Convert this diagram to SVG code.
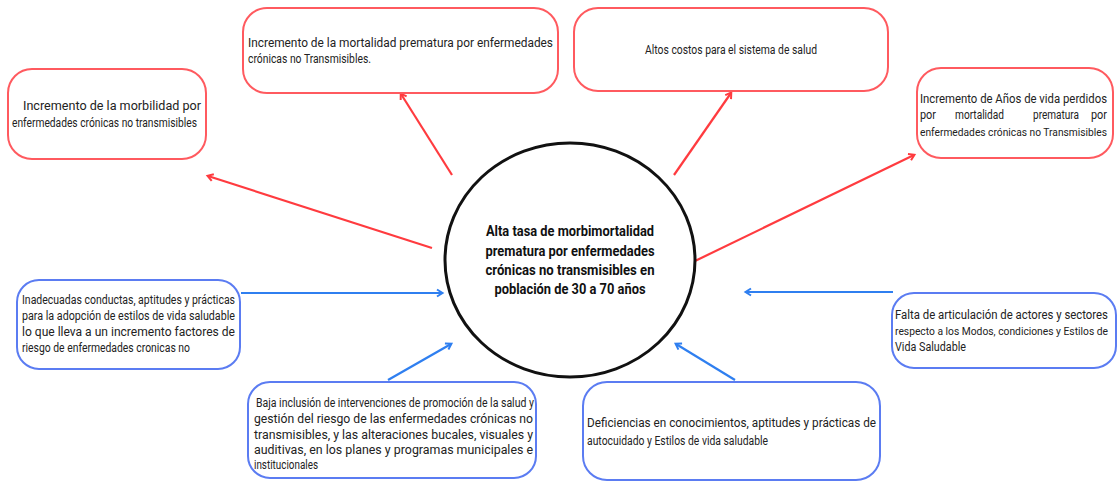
<svg xmlns="http://www.w3.org/2000/svg" width="1119" height="482" viewBox="0 0 1119 482">
<style>
.bg{fill:#ffffff}
.rbox{fill:#ffffff;stroke:#ff5a5f;stroke-width:2}
.bbox{fill:#ffffff;stroke:#5b7cf2;stroke-width:2}
.t{font-family:Roboto,"Liberation Sans",sans-serif;font-size:12px;fill:#222222}
.s{font-size:11px}
.xs{font-size:10.5px}
.c{font-family:Roboto,"Liberation Sans",sans-serif;font-size:14.5px;font-weight:bold;fill:#111111}
.rl{stroke:#ff3b3f;stroke-width:2.2;fill:none;marker-end:url(#ar)}
.bl{stroke:#2f7ff0;stroke-width:2.2;fill:none;marker-end:url(#ab)}
</style>
<defs>
<marker id="ar" markerWidth="10" markerHeight="10" refX="7" refY="5" orient="auto" markerUnits="userSpaceOnUse" viewBox="0 0 10 10">
<path d="M2,1.5 L7.5,5 L2,8.5" fill="none" stroke="#ff3b3f" stroke-width="2"/>
</marker>
<marker id="ab" markerWidth="10" markerHeight="10" refX="7" refY="5" orient="auto" markerUnits="userSpaceOnUse" viewBox="0 0 10 10">
<path d="M2,1.5 L7.5,5 L2,8.5" fill="none" stroke="#2f7ff0" stroke-width="2"/>
</marker>
</defs>
<rect class="bg" x="0" y="0" width="1119" height="482"/>

<g id="connectors">
<line class="rl" x1="432" y1="248" x2="208" y2="176"/>
<line class="rl" x1="452" y1="175" x2="401" y2="94"/>
<line class="rl" x1="674" y1="175" x2="731" y2="93"/>
<line class="rl" x1="695" y1="261" x2="914" y2="155"/>
<line class="bl" x1="241" y1="293" x2="442" y2="293"/>
<line class="bl" x1="388" y1="380" x2="451" y2="344"/>
<line class="bl" x1="735" y1="380" x2="676" y2="344"/>
<line class="bl" x1="893" y1="292" x2="746" y2="292"/>
</g>

<g id="center">
<ellipse cx="570" cy="260" rx="125" ry="117" fill="#ffffff" stroke="#111111" stroke-width="3"/>
<text class="c" x="570" y="236" text-anchor="middle" textLength="168" lengthAdjust="spacingAndGlyphs">Alta tasa de morbimortalidad</text>
<text class="c" x="570" y="256" text-anchor="middle" textLength="169" lengthAdjust="spacingAndGlyphs">prematura por enfermedades</text>
<text class="c" x="570" y="275" text-anchor="middle" textLength="169" lengthAdjust="spacingAndGlyphs">crónicas no transmisibles en</text>
<text class="c" x="570" y="294" text-anchor="middle" textLength="151" lengthAdjust="spacingAndGlyphs">población de 30 a 70 años</text>
</g>

<g id="morbilidad">
<rect class="rbox" x="8" y="69" width="198" height="90" rx="24"/>
<text class="t" x="23" y="110" textLength="178" lengthAdjust="spacingAndGlyphs">Incremento de la morbilidad por</text>
<text class="t" x="12" y="127" textLength="185" lengthAdjust="spacingAndGlyphs">enfermedades crónicas no transmisibles</text>
</g>

<g id="mortalidad">
<rect class="rbox" x="243" y="8" width="315" height="85" rx="24"/>
<text class="t" x="248" y="47" textLength="305" lengthAdjust="spacingAndGlyphs">Incremento de la mortalidad prematura por enfermedades</text>
<text class="t" x="248" y="63" textLength="123" lengthAdjust="spacingAndGlyphs">crónicas no Transmisibles.</text>
</g>

<g id="costos">
<rect class="rbox" x="574" y="8" width="314" height="83" rx="24"/>
<text class="t" x="645" y="54" textLength="172" lengthAdjust="spacingAndGlyphs">Altos costos para el sistema de salud</text>
</g>

<g id="anos">
<rect class="rbox" x="917" y="68" width="196" height="90" rx="24"/>
<text class="t" x="920" y="103" textLength="187" lengthAdjust="spacingAndGlyphs">Incremento de Años de vida perdidos</text>
<text class="t" x="920" y="119" textLength="16" lengthAdjust="spacingAndGlyphs">por</text>
<text class="t" x="955" y="119" textLength="49" lengthAdjust="spacingAndGlyphs">mortalidad</text>
<text class="t" x="1033" y="119" textLength="46" lengthAdjust="spacingAndGlyphs">prematura</text>
<text class="t" x="1091" y="119" textLength="16" lengthAdjust="spacingAndGlyphs">por</text>
<text class="t s" x="920" y="136" textLength="187" lengthAdjust="spacingAndGlyphs">enfermedades crónicas no Transmisibles</text>
</g>

<g id="inadecuadas">
<rect class="bbox" x="17" y="280" width="223" height="89" rx="22"/>
<text class="t" x="22" y="304" textLength="213" lengthAdjust="spacingAndGlyphs">Inadecuadas conductas, aptitudes y prácticas</text>
<text class="t" x="22" y="320" textLength="213" lengthAdjust="spacingAndGlyphs">para la adopción de estilos de vida saludable</text>
<text class="t" x="22" y="336" textLength="213" lengthAdjust="spacingAndGlyphs">lo que lleva a un incremento factores de</text>
<text class="t" x="22" y="352" textLength="168" lengthAdjust="spacingAndGlyphs">riesgo de enfermedades cronicas no</text>
</g>

<g id="baja">
<rect class="bbox" x="248" y="382" width="288" height="96" rx="22"/>
<text class="t" x="256" y="407" textLength="278" lengthAdjust="spacingAndGlyphs">Baja inclusión de intervenciones de promoción de la salud y</text>
<text class="t" x="254" y="423" textLength="279" lengthAdjust="spacingAndGlyphs">gestión del riesgo de las enfermedades crónicas no</text>
<text class="t" x="254" y="439" textLength="279" lengthAdjust="spacingAndGlyphs">transmisibles, y las alteraciones bucales, visuales y</text>
<text class="t" x="254" y="454" textLength="279" lengthAdjust="spacingAndGlyphs">auditivas, en los planes y programas municipales e</text>
<text class="t" x="254" y="469" textLength="64" lengthAdjust="spacingAndGlyphs">institucionales</text>
</g>

<g id="deficiencias">
<rect class="bbox" x="583" y="382" width="297" height="98" rx="24"/>
<text class="t" x="587" y="427" textLength="289" lengthAdjust="spacingAndGlyphs">Deficiencias en conocimientos, aptitudes y prácticas de</text>
<text class="t" x="587" y="445" textLength="181" lengthAdjust="spacingAndGlyphs">autocuidado y Estilos de vida saludable</text>
</g>

<g id="falta">
<rect class="bbox" x="892" y="293" width="224" height="75" rx="22"/>
<text class="t" x="895" y="319" textLength="213" lengthAdjust="spacingAndGlyphs">Falta de articulación de actores y sectores</text>
<text class="t xs" x="895" y="335" textLength="213" lengthAdjust="spacingAndGlyphs">respecto a los Modos, condiciones y Estilos de</text>
<text class="t" x="895" y="351" textLength="71" lengthAdjust="spacingAndGlyphs">Vida Saludable</text>
</g>
</svg>
